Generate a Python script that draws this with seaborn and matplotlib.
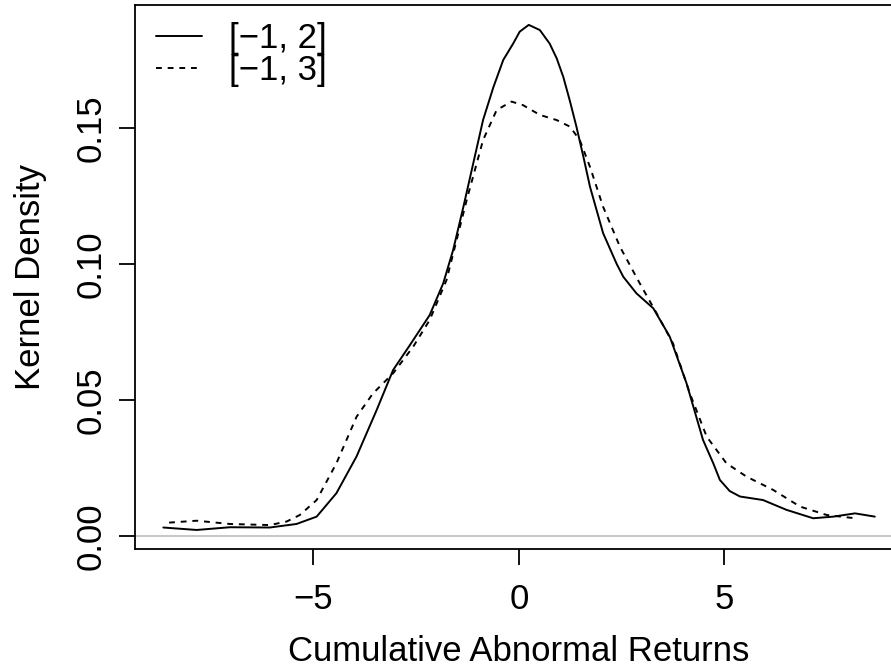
import numpy as np
import pandas as pd
import seaborn as sns
import matplotlib.pyplot as plt

# =====================================
# DATA
# =====================================

# event window [-1, 2]  (solid)
car_w2 = [-8.65, -7.84, -7.03, -6.06, -5.41, -4.92, -4.44, -3.95, -3.46, -3.06,
          -2.65, -2.17, -1.84, -1.60, -1.35, -1.11, -0.87, -0.62, -0.38, -0.14,
          0.02, 0.24, 0.51, 0.75, 0.92, 1.08, 1.24, 1.40, 1.57, 1.73,
          2.05, 2.38, 2.54, 2.86, 3.27, 3.67, 4.08, 4.48, 4.73, 4.89,
          5.13, 5.38, 5.94, 6.51, 7.16, 7.65, 8.18, 8.66]
dens_w2 = [0.0031, 0.0022, 0.0032, 0.0031, 0.0044, 0.0071, 0.0157, 0.0292, 0.0463, 0.0610,
           0.0702, 0.0812, 0.0929, 0.1051, 0.1210, 0.1370, 0.1530, 0.1650, 0.1750, 0.1810,
           0.1854, 0.1879, 0.1860, 0.1810, 0.1756, 0.1688, 0.1600, 0.1505, 0.1394, 0.1284,
           0.1113, 0.1000, 0.0953, 0.0892, 0.0837, 0.0733, 0.0561, 0.0353, 0.0267, 0.0206,
           0.0165, 0.0145, 0.0132, 0.0096, 0.0065, 0.0071, 0.0083, 0.0071]

# event window [-1, 3]  (dashed)
car_w3 = [-8.51, -7.84, -7.03, -6.06, -5.65, -5.33, -4.92, -4.44, -3.95, -3.55,
          -3.06, -2.57, -2.17, -1.76, -1.27, -0.87, -0.54, -0.18, 0.10, 0.51,
          0.92, 1.24, 1.48, 1.73, 2.05, 2.46, 2.94, 3.35, 3.75, 4.16,
          4.57, 5.05, 5.54, 6.19, 6.84, 7.49, 8.18]
dens_w3 = [0.0049, 0.0056, 0.0044, 0.0040, 0.0053, 0.0077, 0.0132, 0.0267, 0.0438, 0.0524,
           0.0598, 0.0696, 0.0794, 0.0941, 0.1235, 0.1456, 0.1566, 0.1597, 0.1584, 0.1548,
           0.1529, 0.1505, 0.1456, 0.1357, 0.1210, 0.1063, 0.0929, 0.0819, 0.0708, 0.0524,
           0.0365, 0.0267, 0.0218, 0.0169, 0.0108, 0.0077, 0.0065]

labels = ["[\u22121, 2]", "[\u22121, 3]"]
x_ticks = [-5, 0, 5]
y_ticks = [0.00, 0.05, 0.10, 0.15]

# =====================================
# STYLE
# =====================================

sns.set_style("ticks", {"axes.edgecolor": "black", "xtick.color": "black",
                        "ytick.color": "black", "text.color": "black",
                        "axes.labelcolor": "black"})
plt.rcParams['font.family'] = ['Liberation Sans', 'DejaVu Sans']

FS = 25

fig = plt.figure(figsize=(8.91, 6.70), dpi=100)
ax = fig.add_axes([0.1515, 0.1806, 0.8617, 0.8119])

ax.axhline(0, color="#BEBEBE", lw=1.2, zorder=1)

sns.lineplot(x=car_w2, y=dens_w2, ax=ax, color="black", lw=1.4,
             sort=False, estimator=None, label=labels[0])
sns.lineplot(x=car_w3, y=dens_w3, ax=ax, color="black", lw=1.4,
             linestyle=(0, (3, 3)), sort=False, estimator=None, label=labels[1])

ax.set_xlim(-9.34, 9.34)
ax.set_ylim(-0.0048, 0.1952)
ax.set_xticks(x_ticks)
ax.set_yticks(y_ticks)
ax.set_yticklabels([f"{v:.2f}" for v in y_ticks], rotation=90, va="center")

for s in ax.spines.values():
    s.set_linewidth(1.3)
ax.tick_params(direction="out", length=11.5, width=1.3, labelsize=FS)
ax.tick_params(axis="x", pad=13)
ax.tick_params(axis="y", pad=8)

ax.set_xlabel("Cumulative Abnormal Returns", fontsize=FS, labelpad=14)
ax.set_ylabel("Kernel Density", fontsize=FS, labelpad=20)

ax.legend(loc="upper left", bbox_to_anchor=(0.028, 0.968), frameon=False,
          fontsize=FS, handlelength=1.3, handletextpad=0.8,
          labelspacing=-0.05, borderpad=0.0, borderaxespad=0.0)

fig.savefig("out.png", dpi=100)
